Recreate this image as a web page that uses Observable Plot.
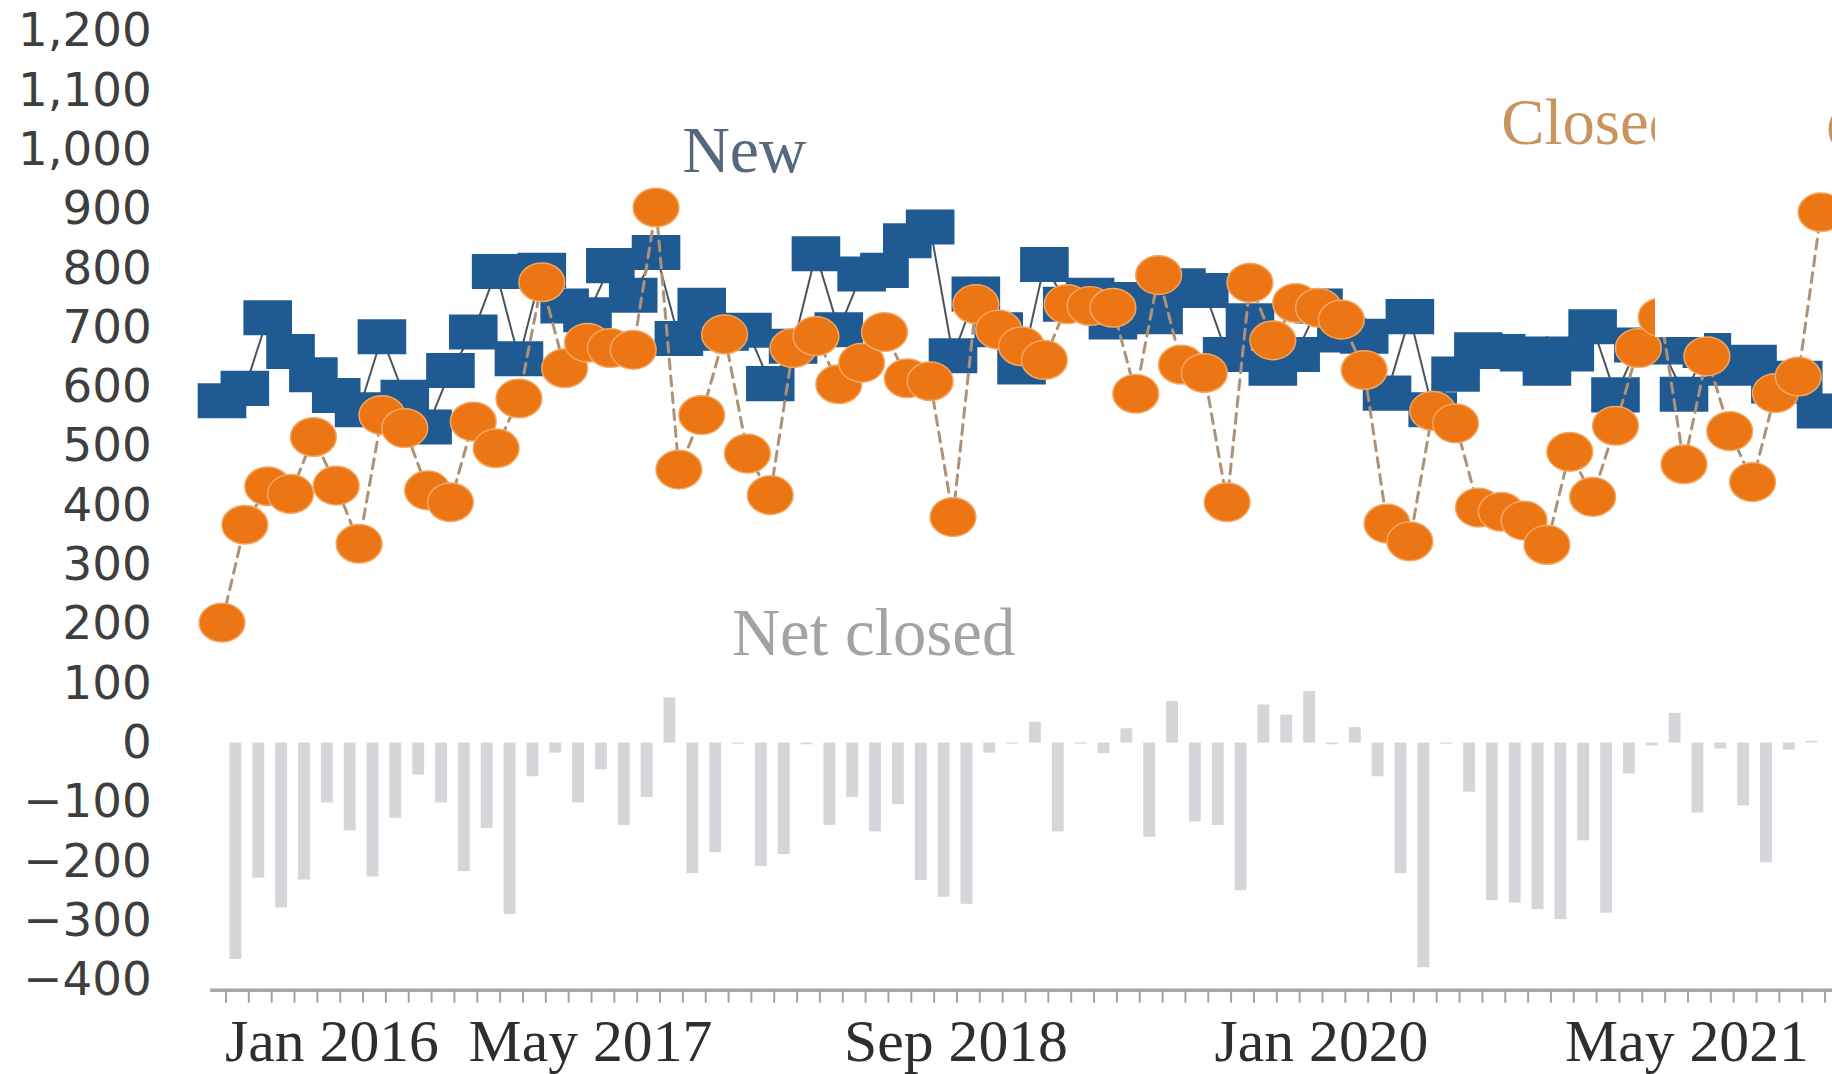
<!DOCTYPE html>
<html>
<head>
<meta charset="utf-8">
<script src="https://cdn.jsdelivr.net/npm/d3@7"></script>
<script src="https://cdn.jsdelivr.net/npm/@observablehq/plot@0.6"></script>
<style>
  html, body { margin: 0; padding: 0; background: #fff; overflow: hidden; }
  #wrap { position: relative; width: 1832px; height: 1074px; overflow: hidden; }
  #mask { position: absolute; left: 1655px; top: 92px; width: 49px; height: 245px; background: #fff; }
</style>
</head>
<body>
<div id="wrap"><div id="chart"></div><div id="mask"></div></div>
<script>
// Monthly categories, Jan 2016 .. Nov 2021
const months = d3.utcMonths(new Date(Date.UTC(2016, 0, 1)), new Date(Date.UTC(2021, 11, 1)))
  .map(d => d3.utcFormat("%Y-%m")(d));

const newCases = [
  577, 598, 717, 660, 621, 586, 562, 685, 583, 533,
  628, 693, 795, 648, 797, 737, 722, 805, 755, 827,
  682, 738, 691, 696, 606, 669, 825, 697, 791, 797,
  847, 870, 653, 757, 697, 634, 807, 740, 755, 710,
  748, 719, 771, 763, 655, 712, 632, 655, 737, 688,
  686, 590, 719, 562, 622, 663, 660, 656, 632, 656,
  702, 587, 671, 668, 588, 662, 632, 642, 602, 615,
  560
];

const closedCases = [
  203, 368, 433, 420, 516, 434, 336, 553, 531, 426,
  406, 542, 497, 581, 777, 632, 675, 666, 663, 903,
  461, 553, 689, 488, 418, 666, 686, 605, 641, 693,
  615, 610, 381, 740, 697, 669, 646, 740, 737, 734,
  589, 789, 638, 624, 406, 776, 679, 742, 734, 714,
  629, 370, 340, 560, 539, 397, 390, 375, 334, 491,
  415, 535, 666, 718, 470, 652, 526, 440, 590, 618,
  895
];

const netClosed = [
  -365, -228, -278, -231, -101, -148, -226, -127, -54, -101,
  -217, -144, -289, -57, -17, -101, -45, -139, -92, 76,
  -220, -185, -2, -208, -188, -3, -139, -92, -150, -104,
  -232, -260, -272, -17, -2, 35, -150, -2, -18, 24,
  -159, 70, -133, -139, -249, 64, 47, 87, -3, 26,
  -57, -220, -379, -2, -83, -266, -270, -281, -298, -165,
  -287, -52, -5, 50, -118, -10, -106, -202, -12, 3,
  null
];

const tickMonths = ["2016-01", "2017-05", "2018-09", "2020-01", "2021-05"];
const tickLabels = ["Jan 2016", "May 2017", "Sep 2018", "Jan 2020", "May 2021"];
const yTicks = d3.range(-400, 1201, 100);

const data = months.map((m, i) => ({
  month: m, newCases: newCases[i], closed: closedCases[i], net: netClosed[i]
}));
const ticks = tickMonths.map((m, i) => ({month: m, label: tickLabels[i]}));

// Slightly stretched marker shapes (as in the picture)
const k = 0.5523;
const ellipseSym = {
  draw(ctx, size) {
    const r = Math.sqrt(size / Math.PI), rx = r * 1.15, ry = r * 0.97;
    ctx.moveTo(rx, 0);
    ctx.bezierCurveTo(rx, ry * k, rx * k, ry, 0, ry);
    ctx.bezierCurveTo(-rx * k, ry, -rx, ry * k, -rx, 0);
    ctx.bezierCurveTo(-rx, -ry * k, -rx * k, -ry, 0, -ry);
    ctx.bezierCurveTo(rx * k, -ry, rx, -ry * k, rx, 0);
    ctx.closePath();
  }
};
const rectSym = {
  draw(ctx, size) {
    const r = Math.sqrt(size / Math.PI), w = r * 1.22, h = r * 0.88;
    ctx.rect(-w, -h, 2 * w, 2 * h);
  }
};

const serif = "'Liberation Serif', 'Times New Roman', serif";

const chart = Plot.plot({
  width: 1840,
  height: 1074,
  marginLeft: 211,
  marginRight: 0,
  marginTop: 31,
  marginBottom: 90,
  style: {background: "#fff", overflow: "visible"},
  x: {type: "band", domain: months, paddingInner: 0.48, paddingOuter: 0.24, align: 0.5, label: null},
  y: {domain: [-400, 1200], label: null},
  marks: [
    Plot.axisY({ticks: yTicks, tickFormat: d3.format(","), tickSize: 0, tickPadding: 59,
      fontSize: 47, fontFamily: "'DejaVu Sans', sans-serif", color: "#3e3e3e", label: null}),
    Plot.barY(data, {x: "month", y: "net", fill: "#d5d6da", dx: 14}),
    Plot.ruleY([-400], {stroke: "#a6a6ae", strokeWidth: 3.5, dy: 10}),
    Plot.axisX({tickSize: 13, tickFormat: () => "", stroke: "#a0a0a8", strokeWidth: 2, dx: 4, dy: 10, label: null}),
    Plot.line(data, {x: "month", y: "newCases", stroke: "#4a525e", strokeWidth: 2}),
    Plot.dot(data, {x: "month", y: "newCases", symbol: rectSym, r: 20, fill: "#1f5b92"}),
    Plot.line(data, {x: "month", y: "closed", stroke: "#ad9277", strokeWidth: 3, strokeDasharray: "10,7"}),
    Plot.dot(data, {x: "month", y: "closed", symbol: ellipseSym, r: 20, fill: "#ec7614", stroke: "#f3a763", strokeWidth: 1.5}),
    Plot.text(ticks.slice(0, 1), {x: "month", text: "label", frameAnchor: "bottom", textAnchor: "start",
      lineAnchor: "bottom", dx: 3, dy: 81, fontSize: 60, fontFamily: serif, fill: "#2e2e2e"}),
    Plot.text(ticks.slice(1), {x: "month", text: "label", frameAnchor: "bottom", textAnchor: "middle",
      lineAnchor: "bottom", dx: 3, dy: 81, fontSize: 60, fontFamily: serif, fill: "#2e2e2e"}),
    Plot.text(["New"], {x: () => "2017-12", y: () => 963, text: d => d, textAnchor: "middle", lineAnchor: "bottom",
      dx: -3, fontSize: 66, fontFamily: serif, fill: "#56687d"}),
    Plot.text(["Net closed"], {x: () => "2018-05", y: () => 149, text: d => d, textAnchor: "middle", lineAnchor: "bottom",
      dx: 12, fontSize: 67, fontFamily: serif, fill: "#a3a3a3"}),
    Plot.text(["Closed"], {x: () => "2020-09", y: () => 1010, text: d => d, textAnchor: "start", lineAnchor: "bottom",
      dx: 0, fontSize: 65, fontFamily: serif, fill: "#c8955f"}),
    Plot.text(["Closed"], {x: () => "2021-11", y: () => 1000, text: d => d, textAnchor: "start", lineAnchor: "bottom",
      dx: 5, fontSize: 64, fontFamily: serif, fill: "#c8955f"})
  ]
});
document.getElementById("chart").appendChild(chart);
</script>
</body>
</html>
